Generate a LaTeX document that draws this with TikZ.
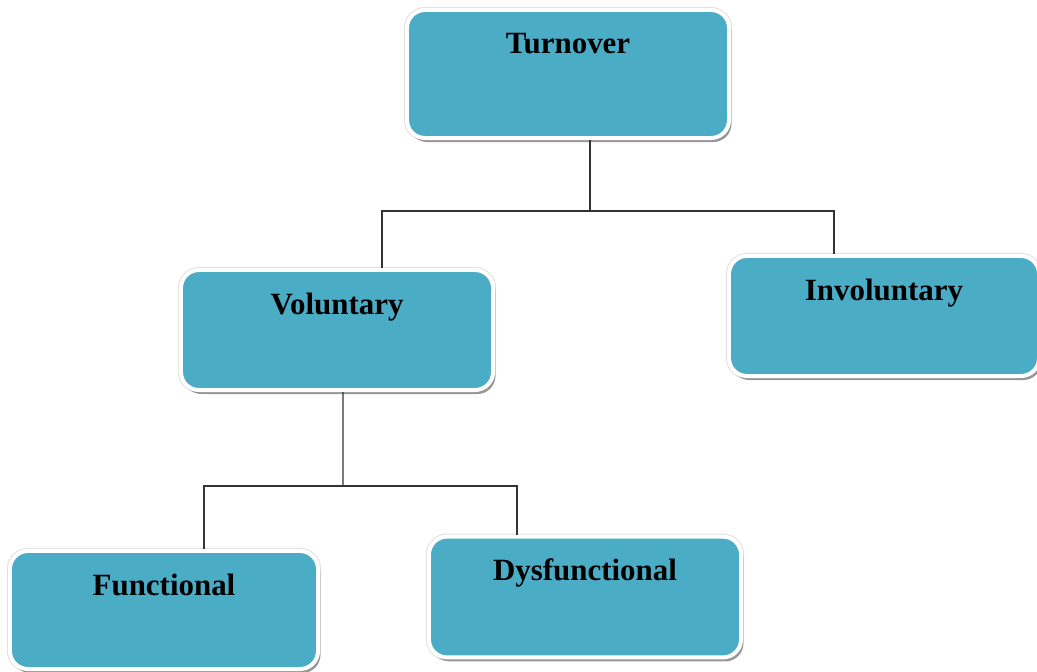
\documentclass[tikz,border=0pt]{standalone}
\usepackage{fontspec}
\setmainfont{Liberation Serif}
\usetikzlibrary{shadows}
\definecolor{boxblue}{RGB}{75,172,198}
\tikzset{
	turnbox/.style = {rectangle, rounded corners = 0.45cm, fill = boxblue,
		draw = white, line width = 0.1cm,
		preaction = {draw = black!12, line width = 0.15cm},
		drop shadow = {shadow xshift = 0.06cm, shadow yshift = -0.1cm,
			fill = black!50, opacity = 0.8}},
	link/.style = {draw = black!80, line width = 0.9pt}
}
\newcommand{\myBox}[5]{
\node[turnbox, minimum width = #3, minimum height = #4,
	label = {[anchor = base, yshift = -1.15cm, font = \bfseries\fontsize{22}{26}\selectfont]north:#5}]
	(#1) at (#2) {};
}

\begin{document}
\begin{tikzpicture}[x = 0.025cm, y = -0.025cm]
	\useasboundingbox (0,0) rectangle (1037,671);

	\myBox{turnover}{568,74}{8.05cm}{3.2cm}{Turnover}
	\myBox{voluntary}{337,330}{7.8cm}{3cm}{Voluntary}
	\myBox{involuntary}{884,316}{7.75cm}{3cm}{Involuntary}
	\myBox{functional}{164,610}{7.7cm}{2.95cm}{Functional}
	\myBox{dysfunctional}{585,597}{7.8cm}{3.02cm}{Dysfunctional}

	\coordinate (tj) at (590,211);
	\coordinate (vj) at (343,486);

	\draw[link] (turnover.south -| tj) -- (tj);
	\draw[link] ([xshift = 1.125cm]voluntary.north) |- (tj) -| ([xshift = -1.25cm]involuntary.north);

	\draw[link] ([xshift = 0.15cm]voluntary.south) -- (vj);
	\draw[link] ([xshift = 1cm]functional.north) |- (vj) -| ([xshift = -1.7cm]dysfunctional.north);
\end{tikzpicture}
\end{document}
